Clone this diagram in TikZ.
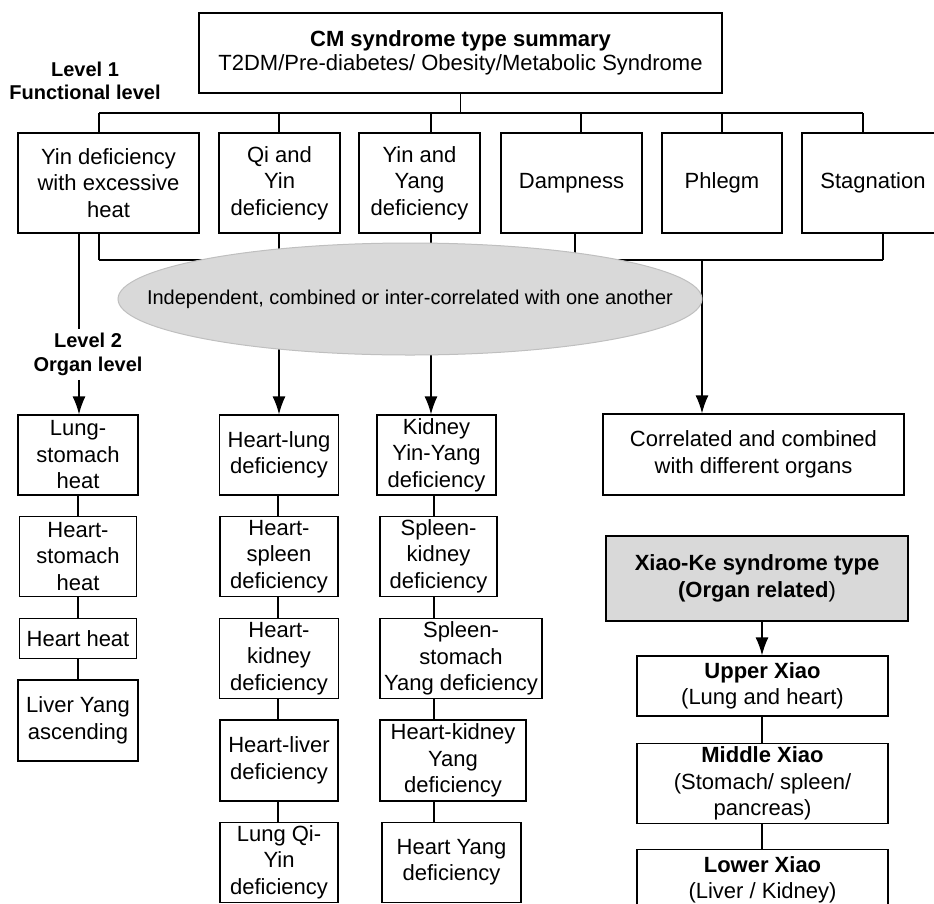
\documentclass[tikz,border=0pt]{standalone}
\usepackage{fontspec}
\setmainfont{Liberation Sans}
\usetikzlibrary{arrows.meta,shapes.geometric,positioning}

\begin{document}
\begin{tikzpicture}[x=1pt, y=-1pt,
font=\fontsize{22}{26.5}\selectfont,
box/.style={draw=black, line width=1.3pt, align=center, inner sep=0pt, minimum height=80pt},
top/.style={box, minimum height=100pt},
lvl/.style={font=\fontsize{20}{23.5}\selectfont\bfseries, align=center, inner sep=4pt},
link/.style={line width=1.3pt},
arr/.style={link, -{Latex[length=18pt,width=13pt]}},
]
\useasboundingbox (0,0) rectangle (934,903);

\node[box, minimum width=523pt, font=\fontsize{22}{24}\selectfont] (S) at (460.5,53) {\textbf{CM syndrome type summary}\\T2DM/Pre-diabetes/ Obesity/Metabolic Syndrome};
\node[lvl] (L1) at (85,81) {Level 1\\Functional level};

\node[top, minimum width=181pt] (F1) at (108.5,183) {Yin deficiency\\with excessive\\heat};
\node[top, minimum width=121pt] (F2) at (279.5,183) {Qi and\\Yin\\deficiency};
\node[top, minimum width=121pt] (F3) at (419.5,183) {Yin and\\Yang\\deficiency};
\node[top, minimum width=141pt] (F4) at (571.5,183) {Dampness};
\node[top, minimum width=120pt] (F5) at (722,183) {Phlegm};
\node[top, minimum width=142pt] (F6) at (873,183) {Stagnation};

\node[lvl] (L2) at (88,354.5) {Level 2\\Organ level};

\node[box, minimum width=120pt] (A1) at (78,455) {Lung-\\stomach\\heat};
\node[box, minimum width=117pt, below=20pt of A1] (A2) {Heart-\\stomach\\heat};
\node[box, minimum width=117pt, minimum height=40pt, below=21pt of A2] (A3) {Heart heat};
\node[box, minimum width=120pt, minimum height=81pt, below=20pt of A3] (A4) {Liver Yang\\ascending};

\node[box, minimum width=119pt] (M1) at (279,455) {Heart-lung\\deficiency};
\node[box, minimum width=118pt, below=20pt of M1] (M2) {Heart-\\spleen\\deficiency};
\node[box, minimum width=119pt, below=21pt of M2] (M3) {Heart-\\kidney\\deficiency};
\node[box, minimum width=118pt, minimum height=81pt, below=20pt of M3] (M4) {Heart-liver\\deficiency};
\node[box, minimum width=118pt, below=20pt of M4] (M5) {Lung Qi-\\Yin\\deficiency};

\node[box, minimum width=119pt] (R1) at (436.5,455) {Kidney\\Yin-Yang\\deficiency};
\node[box, minimum width=117pt, below=20pt of R1, xshift=2pt] (R2) {Spleen-\\kidney\\deficiency};
\node[box, minimum width=162pt, below=21pt of R2, xshift=22.5pt] (R3) {Spleen-\\stomach\\Yang deficiency};
\node[box, minimum width=146pt, minimum height=81pt, below=20pt of R3, xshift=-8pt] (R4) {Heart-kidney\\Yang\\deficiency};
\node[box, minimum width=139pt, below=20pt of R4, xshift=-1.5pt] (R5) {Heart Yang\\deficiency};

\node[box, minimum width=301pt, minimum height=81pt] (C) at (753.5,454.5) {Correlated and combined\\with different organs};
\node[box, minimum width=302pt, minimum height=85pt, fill=gray!30] (X0) at (757,578.5) {\textbf{Xiao-Ke syndrome type}\\\textbf{(Organ related})};
\node[box, minimum width=251pt, minimum height=60pt] (X1) at (762.5,686) {\textbf{Upper Xiao}\\(Lung and heart)};
\node[box, minimum width=251pt, below=26pt of X1] (X2) {\textbf{Middle Xiao}\\(Stomach/ spleen/\\pancreas)};
\node[box, minimum width=251pt, minimum height=60pt, below=25pt of X2] (X3) {\textbf{Lower Xiao}\\(Liver / Kidney)};

\coordinate (Ba) at (99,113);
\coordinate (Bb) at (863,113);
\draw[link] (S.south) -- (S.south |- Ba);
\draw[link] (Ba) -- (Bb);
\foreach \x/\n in {99/F1,279/F2,431/F3,581/F4,722/F5,863/F6}
  \draw[link] (\x,113) -- (\x,0 |- \n.north);

\coordinate (Ca) at (99,260);
\coordinate (Cb) at (883,260);
\draw[link] (Ca) -- (Cb);
\foreach \x/\n in {99/F1,279/F2,431/F3,575/F4,883/F6}
  \draw[link] (\x,0 |- \n.south) -- (\x,260);
\draw[arr] (702,260) -- (702,0 |- C.north);

\draw[link] (79,0 |- F1.south) -- (79,0 |- L2.north);
\draw[arr] (79,0 |- L2.south) -- (79,0 |- A1.north);
\draw[arr] (279,299) -- (279,0 |- M1.north);
\draw[arr] (431,299) -- (431,0 |- R1.north);
\draw[arr] (762,0 |- X0.south) -- (762,0 |- X1.north);

\foreach \a/\b in {A1/A2,A2/A3,A3/A4}
  \draw[link] (78,0 |- \a.south) -- (78,0 |- \b.north);
\foreach \a/\b in {M1/M2,M2/M3,M3/M4,M4/M5}
  \draw[link] (278,0 |- \a.south) -- (278,0 |- \b.north);
\foreach \a/\b in {R1/R2,R2/R3,R3/R4,R4/R5}
  \draw[link] (434,0 |- \a.south) -- (434,0 |- \b.north);
\foreach \a/\b in {X1/X2,X2/X3}
  \draw[link] (762,0 |- \a.south) -- (762,0 |- \b.north);

\draw[draw=gray!50, line width=1pt, fill=gray!30] (410,299) ellipse [x radius=292pt, y radius=56pt];
\node[font=\fontsize{20}{24}\selectfont] (E) at (410,299) {Independent, combined or inter-correlated with one another};
\end{tikzpicture}
\end{document}
